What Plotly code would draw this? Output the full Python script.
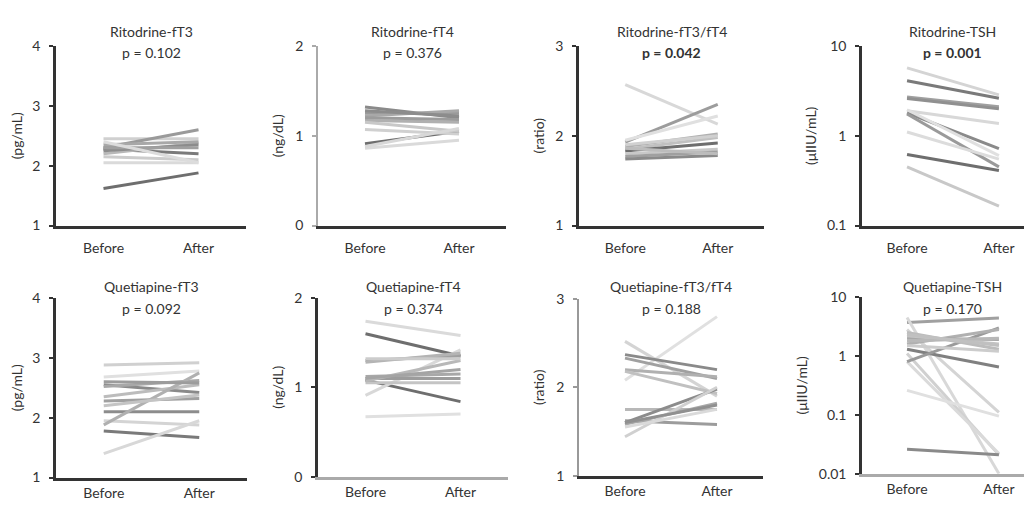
import plotly.graph_objects as go

# ---------------- data ----------------
periods = ["Before", "After"]

titles = ["Ritodrine-fT3", "Ritodrine-fT4", "Ritodrine-fT3/fT4", "Ritodrine-TSH",
          "Quetiapine-fT3", "Quetiapine-fT4", "Quetiapine-fT3/fT4", "Quetiapine-TSH"]
p_values = ["0.102", "0.376", "0.042", "0.001", "0.092", "0.374", "0.188", "0.170"]
p_bold = [False, False, True, True, False, False, False, False]
units = ["(pg/mL)", "(ng/dL)", "(ratio)", "(μIIU/mL)",
         "(pg/mL)", "(ng/dL)", "(ratio)", "(μIIU/mL)"]

rito_ft3_before = [1.62, 2.45, 2.30, 2.28, 2.05, 2.20, 2.15, 2.35, 2.25, 2.30, 2.40]
rito_ft3_after = [1.88, 2.45, 2.60, 2.20, 2.05, 2.38, 2.10, 2.40, 2.35, 2.30, 2.05]

rito_ft4_before = [1.32, 0.91, 0.86, 1.07, 1.25, 1.22, 1.17, 1.28, 1.15, 1.20, 0.88]
rito_ft4_after = [1.20, 1.05, 0.95, 1.02, 1.25, 1.28, 1.15, 1.22, 1.05, 1.18, 1.08]

rito_ratio_before = [2.57, 1.93, 1.95, 1.88, 1.85, 1.83, 1.80, 1.77, 1.74, 1.86, 1.90]
rito_ratio_after = [2.13, 2.35, 2.22, 2.02, 1.98, 1.92, 1.85, 1.82, 1.78, 1.80, 2.00]

rito_tsh_before = [5.7, 4.1, 2.7, 2.6, 1.9, 1.8, 1.75, 1.1, 0.62, 0.45, 1.95]
rito_tsh_after = [2.85, 2.62, 2.1, 2.0, 1.37, 0.72, 0.45, 0.55, 0.41, 0.165, 0.60]

quet_ft3_before = [2.88, 2.68, 2.55, 2.52, 2.28, 2.35, 2.10, 1.95, 1.88, 1.78, 1.40, 2.20, 2.60]
quet_ft3_after = [2.92, 2.78, 2.42, 2.62, 2.32, 2.55, 2.10, 1.88, 2.75, 1.67, 1.95, 2.38, 2.58]

quet_ft4_before = [1.74, 1.60, 0.67, 1.08, 0.91, 1.30, 1.28, 1.12, 1.10, 1.05, 1.07, 1.32, 1.10]
quet_ft4_after = [1.58, 1.35, 0.70, 0.84, 1.42, 1.35, 1.38, 1.15, 1.10, 1.05, 1.30, 1.32, 1.20]

quet_ratio_before = [2.08, 2.52, 2.37, 2.33, 2.20, 2.18, 1.75, 1.62, 1.60, 1.58, 1.44, 1.55, 1.60]
quet_ratio_after = [2.80, 1.90, 2.20, 2.10, 2.12, 1.93, 1.75, 1.58, 1.98, 1.82, 2.00, 1.75, 1.80]

quet_tsh_before = [3.7, 4.5, 1.1, 0.8, 0.26, 2.8, 0.026, 1.3, 0.8, 1.6, 2.0, 2.2, 2.5, 1.8, 1.5, 2.3]
quet_tsh_after = [4.4, 0.01, 0.021, 0.022, 0.095, 0.11, 0.021, 0.65, 3.0, 2.8, 1.9, 1.6, 1.3, 2.0, 1.2, 1.5]

series = [
    (rito_ft3_before, rito_ft3_after), (rito_ft4_before, rito_ft4_after),
    (rito_ratio_before, rito_ratio_after), (rito_tsh_before, rito_tsh_after),
    (quet_ft3_before, quet_ft3_after), (quet_ft4_before, quet_ft4_after),
    (quet_ratio_before, quet_ratio_after), (quet_tsh_before, quet_tsh_after),
]

# y-axis settings per panel
y_ranges = [(1, 4), (0, 2), (1, 3), (-1, 1), (1, 4), (0, 2), (1, 3), (-2, 1)]
y_log = [False, False, False, True, False, False, False, True]
y_ticks = [[1, 2, 3, 4], [0, 1, 2], [1, 2, 3], [0.1, 1, 10],
           [1, 2, 3, 4], [0, 1, 2], [1, 2, 3], [0.01, 0.1, 1, 10]]
y_ticktext = [["1", "2", "3", "4"], ["0", "1", "2"], ["1", "2", "3"], ["0.1", "1", "10"],
              ["1", "2", "3", "4"], ["0", "1", "2"], ["1", "2", "3"], ["0.01", "0.1", "1", "10"]]

# ---------------- style ----------------
OFF = 8                 # page body margin
W, H = 1024, 494        # figure size (page right edge at 1032)

panel_colors = [
    ["#6e6e6e", "#d0d0d0", "#9a9a9a", "#7a7a7a", "#dadada", "#b8b8b8", "#cccccc", "#a8a8a8", "#8c8c8c", "#a0a0a0", "#dcdcdc"],
    ["#8a8a8a", "#6e6e6e", "#dadada", "#d0d0d0", "#9a9a9a", "#a8a8a8", "#b0b0b0", "#8c8c8c", "#c8c8c8", "#9c9c9c", "#d8d8d8"],
    ["#d8d8d8", "#9c9c9c", "#e0e0e0", "#b0b0b0", "#c0c0c0", "#6e6e6e", "#c8c8c8", "#a0a0a0", "#8a8a8a", "#bcbcbc", "#d0d0d0"],
    ["#d4d4d4", "#7a7a7a", "#a0a0a0", "#909090", "#d8d8d8", "#8a8a8a", "#9a9a9a", "#dcdcdc", "#6e6e6e", "#c8c8c8", "#e0e0e0"],
    ["#d0d0d0", "#e0e0e0", "#8a8a8a", "#a8a8a8", "#a0a0a0", "#bcbcbc", "#8c8c8c", "#d4d4d4", "#b0b0b0", "#7a7a7a", "#d8d8d8", "#c4c4c4", "#9c9c9c"],
    ["#dadada", "#6e6e6e", "#e0e0e0", "#6e6e6e", "#d8d8d8", "#a0a0a0", "#b4b4b4", "#a8a8a8", "#9c9c9c", "#c4c4c4", "#b8b8b8", "#cccccc", "#a4a4a4"],
    ["#e0e0e0", "#d4d4d4", "#8a8a8a", "#a0a0a0", "#b0b0b0", "#c0c0c0", "#b8b8b8", "#9c9c9c", "#8c8c8c", "#a8a8a8", "#d0d0d0", "#dadada", "#909090"],
    ["#a0a0a0", "#d8d8d8", "#d0d0d0", "#dadada", "#e0e0e0", "#d4d4d4", "#8a8a8a", "#808080", "#9a9a9a", "#b0b0b0", "#a8a8a8", "#c4c4c4", "#bcbcbc", "#b8b8b8", "#cccccc", "#c0c0c0"],
]

# panel geometry in page pixels: (x0, x1, ytop, ybottom)
geom = [(56, 246, 38, 224), (318, 506, 38, 224), (579, 764, 38, 224), (862, 1032, 38, 224),
        (56, 247, 299, 485), (318, 508, 299, 484), (579, 763, 300, 483), (862, 1032, 298, 481)]
x_ranges = [(-0.5, 1.5), (-0.5, 1.5), (-0.5, 1.5), (-0.49, 1.36),
            (-0.5, 1.5), (-0.5, 1.5), (-0.5, 1.5), (-0.49, 1.36)]
yaxis_color = ["#333333", "#aaaaaa", "#333333", "#333333", "#333333", "#333333", "#999999", "#333333"]
yaxis_width = [2.5, 1.5, 2.5, 2.5, 2.5, 2.5, 1.5, 2.5]
xaxis_color = ["#333333", "#333333", "#333333", "#333333", "#333333", "#aaaaaa", "#333333", "#aaaaaa"]

FONT = "Lato, 'Open Sans', sans-serif"
TXT = "#333333"


def px_x(p):
    return (p - OFF) / W


def px_y(p):
    return 1 - (p - OFF) / H


fig = go.Figure()
layout = dict(
    width=W, height=H, margin=dict(l=0, r=0, t=0, b=0),
    paper_bgcolor="white", plot_bgcolor="white", showlegend=False,
    font=dict(family=FONT, color=TXT, size=14),
)
annotations = []

for i in range(8):
    k = i + 1
    xa = "x" if k == 1 else f"x{k}"
    ya = "y" if k == 1 else f"y{k}"
    before, after = series[i]
    cols = panel_colors[i]
    for j, (b, a) in enumerate(zip(before, after)):
        fig.add_trace(go.Scatter(
            x=[0, 1], y=[b, a], mode="lines",
            line=dict(color=cols[j % len(cols)], width=3),
            xaxis=xa, yaxis=ya, hoverinfo="skip", cliponaxis=False,
        ))
    x0, x1, yt, yb = geom[i]
    row1 = i < 4
    layout[f"xaxis{k if k > 1 else ''}"] = dict(
        domain=[px_x(x0), px_x(x1)], range=list(x_ranges[i]), anchor=ya,
        tickvals=[0, 1], ticktext=periods, ticks="", showgrid=False, zeroline=False,
        showline=True, linecolor=xaxis_color[i], linewidth=2.5,
        tickfont=dict(size=14, family=FONT, color=TXT),
        ticklabelstandoff=8 if row1 else 1,
        fixedrange=True,
    )
    ycfg = dict(
        domain=[px_y(yb), px_y(yt)], anchor=xa,
        range=list(y_ranges[i]), tickvals=y_ticks[i], ticktext=y_ticktext[i],
        ticks="outside", ticklen=4, tickwidth=1.5, tickcolor=yaxis_color[i],
        showgrid=False, zeroline=False,
        showline=True, linecolor=yaxis_color[i], linewidth=yaxis_width[i],
        tickfont=dict(size=14, family=FONT, color=TXT), ticklabelstandoff=6,
        title=dict(text=units[i], font=dict(size=14, family=FONT, color=TXT), standoff=8),
        fixedrange=True,
    )
    if y_log[i]:
        ycfg["type"] = "log"
    layout[f"yaxis{k if k > 1 else ''}"] = ycfg

    ty = 23 if row1 else 287
    py = 45 if row1 else 310
    annotations.append(dict(
        text=titles[i], x=0.5, xref=xa, y=px_y(ty), yref="paper",
        showarrow=False, xanchor="center", yanchor="middle",
        font=dict(size=14, family=FONT, color=TXT),
    ))
    ptxt = f"p = {p_values[i]}"
    if p_bold[i]:
        ptxt = f"<b>{ptxt}</b>"
    annotations.append(dict(
        text=ptxt, x=0.5, xref=xa, y=px_y(py), yref="paper",
        showarrow=False, xanchor="center", yanchor="middle",
        font=dict(size=14, family=FONT, color=TXT),
    ))

layout["annotations"] = annotations
fig.update_layout(**layout)
fig.write_html("out.html")
